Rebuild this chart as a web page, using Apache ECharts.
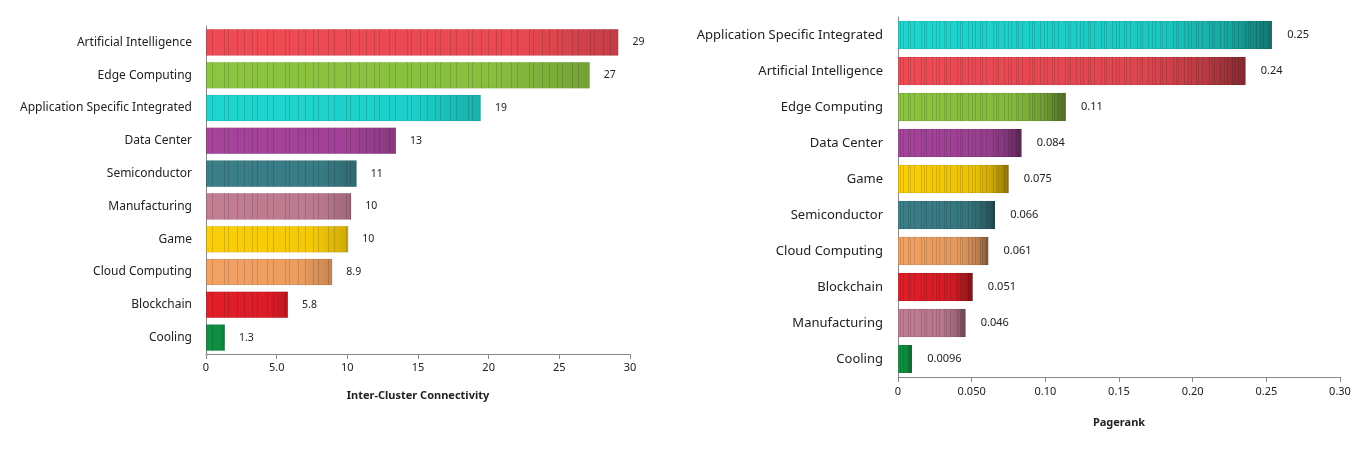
<!DOCTYPE html>
<html>
<head>
<meta charset="utf-8">
<script src="https://cdn.jsdelivr.net/npm/echarts@6/dist/echarts.min.js"></script>
<style>
html,body{margin:0;padding:0;background:#fff;}
#chart{width:1363px;height:449px;}
</style>
</head>
<body>
<div id="chart"></div>
<script>
// Left chart: Inter-Cluster Connectivity
const leftCategories = ['Artificial Intelligence','Edge Computing','Application Specific Integrated','Data Center','Semiconductor','Manufacturing','Game','Cloud Computing','Blockchain','Cooling'];
const leftValues = [29.18, 27.16, 19.45, 13.45, 10.67, 10.28, 10.07, 8.94, 5.81, 1.34];
const leftTicks = [0, 5, 10, 15, 20, 25, 30];

// Right chart: Pagerank
const rightCategories = ['Application Specific Integrated','Artificial Intelligence','Edge Computing','Data Center','Game','Semiconductor','Cloud Computing','Blockchain','Manufacturing','Cooling'];
const rightValues = [0.254, 0.236, 0.114, 0.084, 0.0752, 0.066, 0.0614, 0.0508, 0.046, 0.0096];
const rightTicks = [0, 0.05, 0.10, 0.15, 0.20, 0.25, 0.30];

const colorOf = {
  'Artificial Intelligence': '#ef4b55',
  'Edge Computing': '#8cc541',
  'Application Specific Integrated': '#1ed6cf',
  'Data Center': '#a6449b',
  'Semiconductor': '#3b7f89',
  'Manufacturing': '#c27e93',
  'Game': '#fbcf08',
  'Cloud Computing': '#f2a263',
  'Blockchain': '#e21e28',
  'Cooling': '#0f9142'
};

function shade(hex, f) {
  const n = parseInt(hex.slice(1), 16);
  const r = Math.round(((n >> 16) & 255) * f);
  const g = Math.round(((n >> 8) & 255) * f);
  const b = Math.round((n & 255) * f);
  return 'rgb(' + r + ',' + g + ',' + b + ')';
}
function fmt(v) {
  if (v === 0) return '0';
  return Number(v).toPrecision(2);
}
function grad(hex, stops) {
  return {
    type: 'linear', x: 0, y: 0, x2: 1, y2: 0,
    colorStops: stops.map(s => ({ offset: s[0], color: shade(hex, s[1]) }))
  };
}

const leftDecal = {
  symbol: 'rect', symbolSize: 1, color: 'rgba(0,0,0,0.14)', backgroundColor: null,
  dashArrayX: [1, 7, 1, 4, 1, 9, 1, 5, 1, 11, 1, 3, 1, 8, 1, 6],
  dashArrayY: [20, 0], rotation: 0
};
const rightDecal = {
  symbol: 'rect', symbolSize: 1, color: 'rgba(0,0,0,0.13)', backgroundColor: null,
  dashArrayX: [1, 2, 1, 4, 1, 1, 1, 3, 1, 6, 1, 2, 1, 1, 1, 5, 1, 3],
  dashArrayY: [20, 0], rotation: 0
};

const leftData = leftCategories.map((c, i) => ({
  value: leftValues[i],
  itemStyle: { color: grad(colorOf[c], [[0, 1], [0.75, 0.97], [1, 0.82]]), decal: leftDecal, borderColor: 'rgba(0,0,0,0.08)', borderWidth: 0.5 }
}));
const rightData = rightCategories.map((c, i) => ({
  value: rightValues[i],
  itemStyle: { color: grad(colorOf[c], [[0, 1], [0.7, 0.93], [0.88, 0.78], [1, 0.55]]), decal: rightDecal, borderColor: 'rgba(0,0,0,0.08)', borderWidth: 0.5 }
}));

const font = 'Noto Sans';
const axisLineStyle = { show: true, lineStyle: { color: '#888', width: 1 } };

const chart = echarts.init(document.getElementById('chart'), null, { renderer: 'canvas' });
chart.setOption({
  animation: false,
  aria: { enabled: true, decal: { show: true } },
  textStyle: { fontFamily: font },
  grid: [
    { left: 206, width: 424, top: 26, height: 328 },
    { left: 898, width: 442, top: 17, height: 360 }
  ],
  xAxis: [
    {
      gridIndex: 0, type: 'value', min: 0, max: 30, interval: 5,
      name: 'Inter-Cluster Connectivity', nameLocation: 'middle', nameGap: 36,
      nameTextStyle: { fontFamily: font, fontSize: 11, fontWeight: 'bold', color: '#222' },
      axisLine: axisLineStyle,
      axisTick: { show: true, length: 5, lineStyle: { color: '#888' } },
      axisLabel: { fontFamily: font, fontSize: 11, color: '#222', margin: 8, formatter: v => fmt(v) },
      splitLine: { show: false }
    },
    {
      gridIndex: 1, type: 'value', min: 0, max: 0.30, interval: 0.05,
      name: 'Pagerank', nameLocation: 'middle', nameGap: 40,
      nameTextStyle: { fontFamily: font, fontSize: 11, fontWeight: 'bold', color: '#222' },
      axisLine: axisLineStyle,
      axisTick: { show: true, length: 5, lineStyle: { color: '#888' } },
      axisLabel: { fontFamily: font, fontSize: 11, color: '#222', margin: 9, formatter: v => fmt(v) },
      splitLine: { show: false }
    }
  ],
  yAxis: [
    {
      gridIndex: 0, type: 'category', data: leftCategories, inverse: true,
      axisLine: axisLineStyle, axisTick: { show: false },
      axisLabel: { fontFamily: font, fontSize: 12, color: '#222', margin: 14 }
    },
    {
      gridIndex: 1, type: 'category', data: rightCategories, inverse: true,
      axisLine: axisLineStyle, axisTick: { show: false },
      axisLabel: { fontFamily: font, fontSize: 13, color: '#222', margin: 15 }
    }
  ],
  series: [
    {
      type: 'bar', xAxisIndex: 0, yAxisIndex: 0, data: leftData, barCategoryGap: '19%',
      label: { show: true, position: 'right', distance: 14, fontFamily: font, fontSize: 10.5, color: '#222', formatter: p => fmt(p.value) }
    },
    {
      type: 'bar', xAxisIndex: 1, yAxisIndex: 1, data: rightData, barCategoryGap: '21%',
      label: { show: true, position: 'right', distance: 15, fontFamily: font, fontSize: 11, color: '#222', formatter: p => fmt(p.value) }
    }
  ]
});
</script>
</body>
</html>
